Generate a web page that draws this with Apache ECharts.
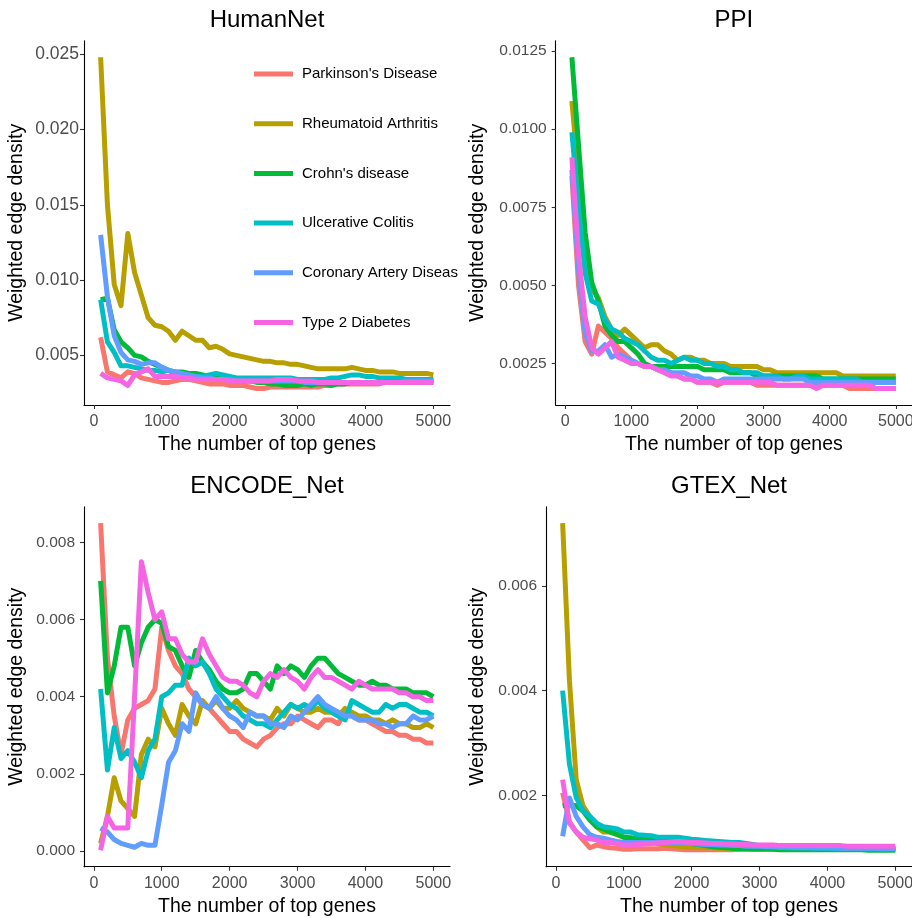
<!DOCTYPE html>
<html>
<head>
<meta charset="utf-8">
<script src="https://cdn.jsdelivr.net/npm/echarts@6/dist/echarts.min.js"></script>
<style>
  html, body { margin: 0; padding: 0; background: #ffffff; }
  #chart { width: 912px; height: 918px; }
</style>
</head>
<body>
<div id="chart"></div>
<script>
// Number of top-ranked genes considered (x positions shared by every panel)
const genes = [
  100, 200, 300, 400, 500, 600, 700, 800, 900, 1000,
  1100, 1200, 1300, 1400, 1500, 1600, 1700, 1800, 1900, 2000,
  2100, 2200, 2300, 2400, 2500, 2600, 2700, 2800, 2900, 3000,
  3100, 3200, 3300, 3400, 3500, 3600, 3700, 3800, 3900, 4000,
  4100, 4200, 4300, 4400, 4500, 4600, 4700, 4800, 4900, 5000
];

const diseases = ["Parkinson's Disease", 'Rheumatoid Arthritis', "Crohn's disease",
  'Ulcerative Colitis', 'Coronary Artery Disease', 'Type 2 Diabetes'];
const diseaseColors = ['#F8766D', '#B79F00', '#00BA38', '#00BFC4', '#619CFF', '#F564E3'];

const panelTitles = ['HumanNet', 'PPI', 'ENCODE_Net', 'GTEX_Net'];
const xTicks = [0, 1000, 2000, 3000, 4000, 5000];
const humanNetTicks = [0.005, 0.010, 0.015, 0.020, 0.025];
const ppiTicks = [0.0025, 0.0050, 0.0075, 0.0100, 0.0125];
const encodeTicks = [0.000, 0.002, 0.004, 0.006, 0.008];
const gtexTicks = [0.002, 0.004, 0.006];

// ---- HumanNet ----
const humanNetPD = [
  0.0062,0.0039,0.0037,0.0035,0.0039,0.0038,0.0035,0.0034,0.0033,0.0032,
  0.0032,0.0033,0.0034,0.0034,0.0033,0.0032,0.0031,0.0031,0.0031,0.0030,
  0.0030,0.0030,0.0029,0.0028,0.0028,0.0029,0.0029,0.0029,0.0029,0.0029,
  0.0029,0.0029,0.0029,0.0030,0.0030,0.0031,0.0031,0.0031,0.0031,0.0031,
  0.0031,0.0031,0.0032,0.0032,0.0032,0.0032,0.0032,0.0032,0.0032,0.0032];
const humanNetRA = [
  0.0248,0.0150,0.0097,0.0083,0.0131,0.0105,0.0090,0.0075,0.0070,0.0069,
  0.0066,0.0060,0.0066,0.0063,0.0060,0.0060,0.0055,0.0056,0.0054,0.0051,
  0.0050,0.0049,0.0048,0.0047,0.0046,0.0046,0.0045,0.0045,0.0044,0.0044,
  0.0043,0.0042,0.0041,0.0041,0.0041,0.0041,0.0041,0.0042,0.0041,0.0040,
  0.0040,0.0039,0.0039,0.0039,0.0038,0.0038,0.0038,0.0038,0.0038,0.0037];
const humanNetCD = [
  0.0087,0.0088,0.0067,0.0059,0.0055,0.0050,0.0049,0.0046,0.0044,0.0042,
  0.0040,0.0039,0.0039,0.0038,0.0038,0.0037,0.0036,0.0036,0.0035,0.0034,
  0.0034,0.0033,0.0033,0.0032,0.0032,0.0031,0.0031,0.0030,0.0030,0.0030,
  0.0031,0.0030,0.0031,0.0031,0.0030,0.0031,0.0031,0.0032,0.0032,0.0032,
  0.0032,0.0032,0.0033,0.0033,0.0033,0.0033,0.0033,0.0033,0.0033,0.0033];
const humanNetUC = [
  0.0087,0.0059,0.0052,0.0043,0.0043,0.0042,0.0041,0.0040,0.0040,0.0039,
  0.0040,0.0038,0.0037,0.0036,0.0036,0.0036,0.0037,0.0038,0.0037,0.0036,
  0.0035,0.0035,0.0035,0.0035,0.0035,0.0035,0.0035,0.0035,0.0035,0.0034,
  0.0034,0.0034,0.0034,0.0034,0.0035,0.0035,0.0036,0.0037,0.0037,0.0036,
  0.0036,0.0035,0.0035,0.0035,0.0035,0.0034,0.0034,0.0034,0.0034,0.0034];
const humanNetCAD = [
  0.0130,0.0089,0.0063,0.0052,0.0047,0.0046,0.0044,0.0045,0.0045,0.0042,
  0.0040,0.0039,0.0038,0.0037,0.0036,0.0035,0.0035,0.0034,0.0034,0.0034,
  0.0033,0.0033,0.0033,0.0033,0.0033,0.0033,0.0033,0.0033,0.0033,0.0033,
  0.0032,0.0032,0.0032,0.0032,0.0032,0.0032,0.0032,0.0032,0.0032,0.0032,
  0.0032,0.0032,0.0032,0.0032,0.0032,0.0033,0.0033,0.0033,0.0033,0.0033];
const humanNetT2D = [
  0.0038,0.0035,0.0034,0.0033,0.0030,0.0037,0.0039,0.0041,0.0036,0.0036,
  0.0036,0.0036,0.0035,0.0035,0.0034,0.0034,0.0034,0.0034,0.0034,0.0033,
  0.0033,0.0033,0.0033,0.0033,0.0033,0.0033,0.0034,0.0034,0.0034,0.0033,
  0.0033,0.0033,0.0032,0.0032,0.0032,0.0032,0.0032,0.0032,0.0032,0.0032,
  0.0032,0.0032,0.0032,0.0032,0.0032,0.0032,0.0032,0.0032,0.0032,0.0032];

// ---- PPI ----
const ppiPD = [
  0.0085,0.0050,0.0032,0.0028,0.0037,0.0035,0.0033,0.0030,0.0028,0.0026,
  0.0025,0.0024,0.0024,0.0023,0.0023,0.0022,0.0021,0.0020,0.0020,0.0019,
  0.0019,0.0019,0.0018,0.0019,0.0019,0.0019,0.0019,0.0019,0.0018,0.0018,
  0.0018,0.0018,0.0018,0.0018,0.0018,0.0018,0.0018,0.0018,0.0018,0.0018,
  0.0018,0.0018,0.0017,0.0017,0.0017,0.0017,0.0017,0.0017,0.0017,0.0017];
const ppiRA = [
  0.0109,0.0085,0.0060,0.0049,0.0046,0.0040,0.0036,0.0034,0.0036,0.0034,
  0.0032,0.0030,0.0031,0.0031,0.0029,0.0028,0.0026,0.0027,0.0027,0.0026,
  0.0026,0.0025,0.0025,0.0025,0.0024,0.0024,0.0024,0.0024,0.0024,0.0023,
  0.0023,0.0022,0.0022,0.0022,0.0022,0.0022,0.0022,0.0022,0.0022,0.0022,
  0.0022,0.0021,0.0021,0.0021,0.0021,0.0021,0.0021,0.0021,0.0021,0.0021];
const ppiCD = [
  0.0123,0.0095,0.0067,0.0051,0.0045,0.0037,0.0034,0.0032,0.0032,0.0030,
  0.0028,0.0025,0.0024,0.0024,0.0024,0.0024,0.0024,0.0024,0.0024,0.0024,
  0.0023,0.0023,0.0023,0.0023,0.0022,0.0022,0.0022,0.0022,0.0021,0.0021,
  0.0021,0.0021,0.0021,0.0021,0.0021,0.0021,0.0021,0.0021,0.0020,0.0020,
  0.0020,0.0020,0.0020,0.0020,0.0020,0.0020,0.0020,0.0020,0.0020,0.0020];
const ppiUC = [
  0.0099,0.0075,0.0054,0.0045,0.0044,0.0039,0.0036,0.0035,0.0033,0.0032,
  0.0031,0.0029,0.0027,0.0026,0.0026,0.0025,0.0026,0.0027,0.0026,0.0026,
  0.0025,0.0025,0.0024,0.0024,0.0023,0.0023,0.0022,0.0022,0.0022,0.0021,
  0.0021,0.0021,0.0020,0.0020,0.0021,0.0021,0.0020,0.0020,0.0020,0.0020,
  0.0020,0.0020,0.0020,0.0020,0.0019,0.0019,0.0019,0.0019,0.0019,0.0019];
const ppiCAD = [
  0.0087,0.0055,0.0035,0.0029,0.0029,0.0031,0.0027,0.0028,0.0027,0.0026,
  0.0025,0.0024,0.0024,0.0023,0.0023,0.0022,0.0022,0.0022,0.0021,0.0021,
  0.0020,0.0020,0.0019,0.0020,0.0020,0.0020,0.0020,0.0020,0.0020,0.0020,
  0.0020,0.0020,0.0020,0.0020,0.0020,0.0020,0.0019,0.0019,0.0019,0.0019,
  0.0019,0.0019,0.0019,0.0019,0.0019,0.0019,0.0019,0.0019,0.0019,0.0019];
const ppiT2D = [
  0.0091,0.0060,0.0040,0.0030,0.0028,0.0030,0.0032,0.0027,0.0026,0.0025,
  0.0025,0.0024,0.0024,0.0023,0.0022,0.0021,0.0021,0.0020,0.0020,0.0019,
  0.0019,0.0019,0.0019,0.0019,0.0019,0.0019,0.0019,0.0019,0.0019,0.0019,
  0.0019,0.0018,0.0018,0.0018,0.0018,0.0018,0.0018,0.0017,0.0018,0.0018,
  0.0018,0.0018,0.0018,0.0018,0.0018,0.0018,0.0017,0.0017,0.0017,0.0017];

// ---- ENCODE_Net ----
const encodePD = [
  0.0085,0.0050,0.0035,0.0025,0.0034,0.0037,0.0038,0.0039,0.0042,0.0058,
  0.0052,0.0048,0.0046,0.0042,0.0040,0.0038,0.0037,0.0035,0.0033,0.0031,
  0.0031,0.0029,0.0028,0.0027,0.0029,0.0030,0.0032,0.0033,0.0033,0.0035,
  0.0034,0.0033,0.0032,0.0034,0.0034,0.0033,0.0036,0.0035,0.0034,0.0034,
  0.0033,0.0032,0.0031,0.0031,0.0030,0.0030,0.0029,0.0029,0.0028,0.0028];
const encodeRA = [
  0.0002,0.0009,0.0019,0.0013,0.0011,0.0009,0.0025,0.0029,0.0027,0.0037,
  0.0033,0.0030,0.0038,0.0035,0.0033,0.0039,0.0037,0.0039,0.0037,0.0037,
  0.0039,0.0037,0.0036,0.0035,0.0035,0.0034,0.0037,0.0035,0.0038,0.0037,
  0.0036,0.0036,0.0037,0.0036,0.0036,0.0035,0.0037,0.0036,0.0035,0.0035,
  0.0034,0.0034,0.0033,0.0034,0.0033,0.0033,0.0032,0.0032,0.0033,0.0032];
const encodeCD = [
  0.0070,0.0041,0.0048,0.0058,0.0058,0.0048,0.0054,0.0058,0.0060,0.0059,
  0.0053,0.0052,0.0048,0.0045,0.0052,0.0049,0.0047,0.0044,0.0042,0.0041,
  0.0041,0.0042,0.0046,0.0046,0.0044,0.0042,0.0048,0.0046,0.0048,0.0047,
  0.0045,0.0048,0.0050,0.0050,0.0048,0.0046,0.0045,0.0044,0.0043,0.0043,
  0.0044,0.0043,0.0043,0.0042,0.0042,0.0042,0.0041,0.0041,0.0041,0.0040];
const encodeUC = [
  0.0042,0.0021,0.0032,0.0024,0.0026,0.0023,0.0019,0.0026,0.0029,0.0040,
  0.0041,0.0043,0.0043,0.0050,0.0048,0.0049,0.0046,0.0042,0.0040,0.0038,
  0.0037,0.0035,0.0034,0.0033,0.0033,0.0032,0.0034,0.0036,0.0038,0.0037,
  0.0038,0.0037,0.0039,0.0037,0.0036,0.0035,0.0034,0.0039,0.0038,0.0037,
  0.0036,0.0036,0.0038,0.0037,0.0038,0.0038,0.0037,0.0036,0.0036,0.0035];
const encodeCAD = [
  0.0006,0.0005,0.0003,0.0002,0.00015,0.0001,0.0002,0.00015,0.00015,0.0012,
  0.0023,0.0026,0.0033,0.0031,0.0041,0.0038,0.0037,0.0040,0.0037,0.0035,
  0.0034,0.0032,0.0036,0.0035,0.0035,0.0033,0.0033,0.0032,0.0035,0.0034,
  0.0036,0.0038,0.0040,0.0038,0.0037,0.0036,0.0035,0.0035,0.0034,0.0034,
  0.0034,0.0033,0.0033,0.0032,0.0033,0.0033,0.0035,0.0034,0.0034,0.0035];
const encodeT2D = [
  0.00002,0.0009,0.0006,0.0006,0.0006,0.0040,0.0075,0.0067,0.0060,0.0062,
  0.0055,0.0055,0.0051,0.0049,0.0049,0.0055,0.0051,0.0048,0.0045,0.0044,
  0.0044,0.0043,0.0041,0.0040,0.0044,0.0046,0.0045,0.0047,0.0045,0.0044,
  0.0042,0.0045,0.0047,0.0045,0.0045,0.0044,0.0043,0.0042,0.0044,0.0043,
  0.0042,0.0042,0.0042,0.0042,0.0041,0.0041,0.0040,0.0040,0.0039,0.0039];

// ---- GTEX_Net ----
const gtexPD = [
  0.00205,0.0015,0.0013,0.00115,0.0010,0.00105,0.00102,0.0010,0.00099,0.00097,
  0.00097,0.00098,0.00098,0.00098,0.00098,0.00099,0.00098,0.00097,0.00096,0.00096,
  0.00096,0.00096,0.00096,0.00096,0.00096,0.00096,0.00097,0.00097,0.00098,0.00098,
  0.00098,0.00098,0.00098,0.00098,0.00098,0.00098,0.00098,0.00098,0.00098,0.00098,
  0.00098,0.00098,0.00098,0.00098,0.00098,0.00098,0.00098,0.00098,0.00098,0.00098];
const gtexRA = [
  0.0072,0.0042,0.0023,0.0018,0.0016,0.0014,0.0013,0.0013,0.00125,0.0012,
  0.0012,0.00115,0.00112,0.0011,0.00108,0.00106,0.00104,0.00103,0.00102,0.00101,
  0.0010,0.0010,0.0010,0.00099,0.00099,0.00098,0.00098,0.00098,0.00098,0.00098,
  0.00098,0.00098,0.00098,0.00097,0.00097,0.00097,0.00097,0.00097,0.00097,0.00097,
  0.00097,0.00097,0.00097,0.00097,0.00097,0.00097,0.00097,0.00097,0.00097,0.00097];
const gtexCD = [
  0.0018,0.00182,0.0018,0.0017,0.00153,0.0014,0.00136,0.0013,0.00126,0.0012,
  0.00118,0.00117,0.00116,0.00115,0.00114,0.00113,0.00112,0.00111,0.0011,0.00108,
  0.00106,0.00104,0.00102,0.00101,0.0010,0.00099,0.00098,0.00098,0.00097,0.00097,
  0.00097,0.00097,0.00096,0.00096,0.00096,0.00096,0.00096,0.00096,0.00096,0.00096,
  0.00096,0.00096,0.00096,0.00096,0.00096,0.00095,0.00095,0.00095,0.00095,0.00095];
const gtexUC = [
  0.0040,0.0026,0.00196,0.0017,0.0016,0.00147,0.0014,0.00138,0.00136,0.0013,
  0.0013,0.00125,0.00124,0.00123,0.0012,0.0012,0.0012,0.0012,0.00118,0.00116,
  0.00115,0.00114,0.00113,0.00112,0.00111,0.0011,0.0011,0.00108,0.00106,0.00104,
  0.00103,0.00102,0.00101,0.0010,0.0010,0.0010,0.0010,0.00099,0.00099,0.00099,
  0.00098,0.00098,0.00098,0.00098,0.00098,0.00098,0.00098,0.00098,0.00098,0.00098];
const gtexCAD = [
  0.00122,0.00195,0.0016,0.0014,0.00125,0.0012,0.00118,0.00115,0.00112,0.0011,
  0.0011,0.0011,0.0011,0.0011,0.0011,0.0011,0.0011,0.00109,0.00108,0.00108,
  0.00107,0.00106,0.00106,0.00105,0.00105,0.00104,0.00104,0.00103,0.00103,0.00103,
  0.00102,0.00102,0.00101,0.00101,0.0010,0.0010,0.0010,0.0010,0.0010,0.0010,
  0.0010,0.00099,0.00099,0.00099,0.00099,0.00099,0.00099,0.00098,0.00098,0.00098];
const gtexT2D = [
  0.0023,0.00147,0.0013,0.0012,0.00117,0.00115,0.0011,0.0011,0.00108,0.00105,
  0.00105,0.00106,0.00107,0.00108,0.00109,0.0011,0.00111,0.00112,0.00111,0.0011,
  0.0011,0.00109,0.00108,0.00108,0.00107,0.00107,0.00106,0.00106,0.00105,0.00105,
  0.00105,0.00105,0.00104,0.00104,0.00104,0.00104,0.00104,0.00104,0.00104,0.00104,
  0.00104,0.00104,0.00103,0.00103,0.00103,0.00103,0.00103,0.00103,0.00103,0.00103];

const panelSeries = [
  [humanNetPD, humanNetRA, humanNetCD, humanNetUC, humanNetCAD, humanNetT2D],
  [ppiPD, ppiRA, ppiCD, ppiUC, ppiCAD, ppiT2D],
  [encodePD, encodeRA, encodeCD, encodeUC, encodeCAD, encodeT2D],
  [gtexPD, gtexRA, gtexCD, gtexUC, gtexCAD, gtexT2D]
];
const panelYTicks = [humanNetTicks, ppiTicks, encodeTicks, gtexTicks];
const panelDecimals = [3, 4, 3, 3];

// Panel placement in pixels
const FONT = "'Liberation Sans', Arial, sans-serif";
const grids = [
  { left: 84,    top: 40.7,  width: 366,   height: 364.3 },
  { left: 555.7, top: 40.7,  width: 356.3, height: 364.3 },
  { left: 84,    top: 506.7, width: 366,   height: 360 },
  { left: 546,   top: 506.7, width: 366,   height: 360 }
];
const yNameGaps = [57, 68, 57, 58];
const yLabelSizes = [17.5, 15.5, 15.5, 15.5];
const yLabelMargins = [5, 9, 9, 9];

// Value range padded by 5% on each side
function paddedRange(list) {
  let lo = Infinity, hi = -Infinity;
  list.forEach(a => a.forEach(v => { if (v < lo) lo = v; if (v > hi) hi = v; }));
  const pad = (hi - lo) * 0.05;
  return [lo - pad, hi + pad];
}
const xRange = [genes[0] - (genes[genes.length - 1] - genes[0]) * 0.05,
                genes[genes.length - 1] + (genes[genes.length - 1] - genes[0]) * 0.05];

const axisLineStyle = { color: '#000000', width: 1.1 };
const tickStyle = { color: '#333333', width: 1.1 };

const option = {
  animation: false,
  backgroundColor: '#ffffff',
  title: panelTitles.map((t, i) => ({
    text: t,
    left: grids[i].left + grids[i].width / 2,
    top: grids[i].top - 32,
    textAlign: 'center',
    padding: 0,
    textStyle: { fontFamily: FONT, fontSize: 24, fontWeight: 'normal', color: '#000000' }
  })),
  legend: {
    orient: 'vertical',
    left: 254,
    top: 66.5,
    padding: 0,
    itemGap: 34.7,
    itemWidth: 39,
    itemHeight: 5,
    icon: 'rect',
    selectedMode: false,
    data: diseases,
    textStyle: {
      fontFamily: FONT, fontSize: 15, color: '#000000', lineHeight: 15,
      padding: [0, 0, 0, 4], width: 163, overflow: 'truncate', ellipsis: ''
    }
  },
  grid: grids.map(g => Object.assign({ outerBoundsMode: 'none', containLabel: false }, g)),
  xAxis: grids.map((g, i) => ({
    gridIndex: i,
    type: 'value',
    min: xRange[0],
    max: xRange[1],
    name: 'The number of top genes',
    nameLocation: 'middle',
    nameGap: 30,
    nameTextStyle: { fontFamily: FONT, fontSize: 19.5, color: '#000000' },
    axisLine: { show: true, onZero: false, lineStyle: axisLineStyle },
    axisTick: { show: true, length: 4, customValues: xTicks, lineStyle: tickStyle },
    axisLabel: {
      customValues: xTicks, color: '#4D4D4D', fontFamily: FONT, fontSize: 16, margin: 9,
      formatter: v => String(v)
    },
    splitLine: { show: false }
  })),
  yAxis: grids.map((g, i) => {
    const r = paddedRange(panelSeries[i]);
    return {
      gridIndex: i,
      type: 'value',
      min: r[0],
      max: r[1],
      name: 'Weighted edge density',
      nameLocation: 'middle',
      nameGap: yNameGaps[i],
      nameTextStyle: { fontFamily: FONT, fontSize: 19.5, color: '#000000' },
      axisLine: { show: true, onZero: false, lineStyle: axisLineStyle },
      axisTick: { show: true, length: 4, customValues: panelYTicks[i], lineStyle: tickStyle },
      axisLabel: {
        customValues: panelYTicks[i], color: '#4D4D4D', fontFamily: FONT,
        fontSize: yLabelSizes[i], margin: yLabelMargins[i],
        formatter: v => Number(v).toFixed(panelDecimals[i])
      },
      splitLine: { show: false }
    };
  }),
  series: []
};

panelSeries.forEach((set, p) => {
  set.forEach((vals, k) => {
    option.series.push({
      type: 'line',
      name: diseases[k],
      xAxisIndex: p,
      yAxisIndex: p,
      data: genes.map((g, j) => [g, vals[j]]),
      symbol: 'none',
      showSymbol: false,
      color: diseaseColors[k],
      itemStyle: { color: diseaseColors[k] },
      lineStyle: { width: 5, color: diseaseColors[k], join: 'round', cap: 'butt' },
      emphasis: { disabled: true },
      silent: true
    });
  });
});

const chart = echarts.init(document.getElementById('chart'), null, { renderer: 'canvas' });
chart.setOption(option);
</script>
</body>
</html>
